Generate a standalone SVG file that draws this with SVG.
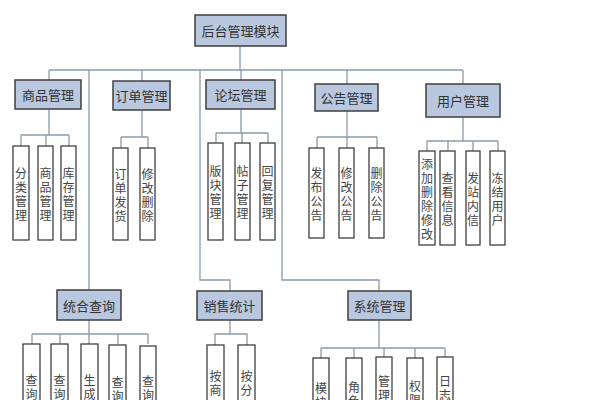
<svg xmlns="http://www.w3.org/2000/svg" width="602" height="400" viewBox="0 0 602 400">
<style>
.b{fill:#b9c8df;stroke:#3f3f3f;stroke-width:1.5}
.l{fill:#fff;stroke:#3f3f3f;stroke-width:1.3}
.t{font-family:"Noto Sans CJK SC",sans-serif;font-size:13px;fill:#333;text-anchor:middle;dominant-baseline:central}
.v{font-family:"Noto Sans CJK SC",sans-serif;font-size:12px;fill:#444;text-anchor:middle;dominant-baseline:central}
#c path{fill:none;stroke:#8a9aab;stroke-width:1.3}
</style>
<rect width="602" height="400" fill="#fff"/>
<g id="c">
<path d="M240 46V70M49 70H463M49 70V80M142 70V81M241 70V80M347 70V84M463 70V84"/>
<path d="M89 70V290M200 70V280H230V291M282 70V280H379V291"/>
<path d="M49 109V135M21 135H69M21 135V146M46 135V146M69 135V146"/>
<path d="M142 110V137M121 137H148M121 137V148M148 137V148"/>
<path d="M241 109V133M216 133H268M216 133V143M242 133V143M268 133V143"/>
<path d="M347 111V137M317 137H377M317 137V148M347 137V148M377 137V148"/>
<path d="M463 117V141M427 141H498M427 141V151M448 141V151M473 141V151M498 141V151"/>
<path d="M89 320V334M32 334H148M32 334V344M60 334V344M89 334V344M118 334V344M148 334V344"/>
<path d="M230 320V334H215V345M230 334H247V345"/>
<path d="M379 320V348M321 348H445M321 348V358M354 348V358M384 348V358M415 348V358M445 348V358"/>
</g>
<g id="root"><rect class="b" x="195" y="15" width="91" height="31"/><text class="t" x="240.5" y="30.5">后台管理模块</text></g>
<g id="n1"><rect class="b" x="15" y="80" width="66" height="29"/><text class="t" x="48" y="94.5">商品管理</text></g>
<g id="n2"><rect class="b" x="113" y="81" width="57" height="29"/><text class="t" x="141.5" y="95.5">订单管理</text></g>
<g id="n3"><rect class="b" x="206" y="80" width="69" height="29"/><text class="t" x="240.5" y="94.5">论坛管理</text></g>
<g id="n4"><rect class="b" x="315" y="84" width="63" height="27"/><text class="t" x="346.5" y="97.5">公告管理</text></g>
<g id="n5"><rect class="b" x="426" y="84" width="74" height="33"/><text class="t" x="463" y="100.5">用户管理</text></g>
<g id="n6"><rect class="b" x="57" y="290" width="64" height="30"/><text class="t" x="89" y="305">统合查询</text></g>
<g id="n7"><rect class="b" x="197" y="291" width="65" height="29"/><text class="t" x="229.5" y="305.5">销售统计</text></g>
<g id="n8"><rect class="b" x="348" y="291" width="63" height="29"/><text class="t" x="379.5" y="305.5">系统管理</text></g>
<g id="l1"><rect class="l" x="13" y="146" width="16" height="94"/><text class="v" x="21" y="172"><tspan x="21" dy="0">分</tspan><tspan x="21" dy="14">类</tspan><tspan x="21" dy="14">管</tspan><tspan x="21" dy="14">理</tspan></text></g>
<g id="l2"><rect class="l" x="38" y="146" width="15" height="94"/><text class="v" x="45.5" y="172"><tspan x="45.5" dy="0">商</tspan><tspan x="45.5" dy="14">品</tspan><tspan x="45.5" dy="14">管</tspan><tspan x="45.5" dy="14">理</tspan></text></g>
<g id="l3"><rect class="l" x="61" y="146" width="15" height="94"/><text class="v" x="68.5" y="172"><tspan x="68.5" dy="0">库</tspan><tspan x="68.5" dy="14">存</tspan><tspan x="68.5" dy="14">管</tspan><tspan x="68.5" dy="14">理</tspan></text></g>
<g id="l4"><rect class="l" x="113" y="148" width="15" height="92"/><text class="v" x="120.5" y="173"><tspan x="120.5" dy="0">订</tspan><tspan x="120.5" dy="14">单</tspan><tspan x="120.5" dy="14">发</tspan><tspan x="120.5" dy="14">货</tspan></text></g>
<g id="l5"><rect class="l" x="140" y="148" width="15" height="92"/><text class="v" x="147.5" y="173"><tspan x="147.5" dy="0">修</tspan><tspan x="147.5" dy="14">改</tspan><tspan x="147.5" dy="14">删</tspan><tspan x="147.5" dy="14">除</tspan></text></g>
<g id="l6"><rect class="l" x="208" y="143" width="15" height="97"/><text class="v" x="215.5" y="170"><tspan x="215.5" dy="0">版</tspan><tspan x="215.5" dy="14">块</tspan><tspan x="215.5" dy="14">管</tspan><tspan x="215.5" dy="14">理</tspan></text></g>
<g id="l7"><rect class="l" x="235" y="143" width="15" height="97"/><text class="v" x="242.5" y="170"><tspan x="242.5" dy="0">帖</tspan><tspan x="242.5" dy="14">子</tspan><tspan x="242.5" dy="14">管</tspan><tspan x="242.5" dy="14">理</tspan></text></g>
<g id="l8"><rect class="l" x="260" y="143" width="15" height="97"/><text class="v" x="267.5" y="170"><tspan x="267.5" dy="0">回</tspan><tspan x="267.5" dy="14">复</tspan><tspan x="267.5" dy="14">管</tspan><tspan x="267.5" dy="14">理</tspan></text></g>
<g id="l9"><rect class="l" x="309" y="148" width="15" height="90"/><text class="v" x="316.5" y="172"><tspan x="316.5" dy="0">发</tspan><tspan x="316.5" dy="14">布</tspan><tspan x="316.5" dy="14">公</tspan><tspan x="316.5" dy="14">告</tspan></text></g>
<g id="l10"><rect class="l" x="339" y="148" width="15" height="90"/><text class="v" x="346.5" y="172"><tspan x="346.5" dy="0">修</tspan><tspan x="346.5" dy="14">改</tspan><tspan x="346.5" dy="14">公</tspan><tspan x="346.5" dy="14">告</tspan></text></g>
<g id="l11"><rect class="l" x="369" y="148" width="15" height="90"/><text class="v" x="376.5" y="172"><tspan x="376.5" dy="0">删</tspan><tspan x="376.5" dy="14">除</tspan><tspan x="376.5" dy="14">公</tspan><tspan x="376.5" dy="14">告</tspan></text></g>
<g id="l12"><rect class="l" x="419" y="151" width="16" height="94"/><text class="v" x="427" y="163"><tspan x="427" dy="0">添</tspan><tspan x="427" dy="14">加</tspan><tspan x="427" dy="14">删</tspan><tspan x="427" dy="14">除</tspan><tspan x="427" dy="14">修</tspan><tspan x="427" dy="14">改</tspan></text></g>
<g id="l13"><rect class="l" x="440" y="151" width="15" height="94"/><text class="v" x="447.5" y="177"><tspan x="447.5" dy="0">查</tspan><tspan x="447.5" dy="14">看</tspan><tspan x="447.5" dy="14">信</tspan><tspan x="447.5" dy="14">息</tspan></text></g>
<g id="l14"><rect class="l" x="466" y="151" width="14" height="94"/><text class="v" x="473" y="177"><tspan x="473" dy="0">发</tspan><tspan x="473" dy="14">站</tspan><tspan x="473" dy="14">内</tspan><tspan x="473" dy="14">信</tspan></text></g>
<g id="l15"><rect class="l" x="490" y="151" width="15" height="94"/><text class="v" x="497.5" y="177"><tspan x="497.5" dy="0">冻</tspan><tspan x="497.5" dy="14">结</tspan><tspan x="497.5" dy="14">用</tspan><tspan x="497.5" dy="14">户</tspan></text></g>
<g id="l16"><rect class="l" x="23" y="344" width="17" height="60"/><text class="v" x="31.5" y="379"><tspan x="31.5" dy="0">查</tspan><tspan x="31.5" dy="14">询</tspan></text></g>
<g id="l17"><rect class="l" x="51" y="344" width="17" height="60"/><text class="v" x="59.5" y="379"><tspan x="59.5" dy="0">查</tspan><tspan x="59.5" dy="14">询</tspan></text></g>
<g id="l18"><rect class="l" x="81" y="344" width="17" height="60"/><text class="v" x="89.5" y="379"><tspan x="89.5" dy="0">生</tspan><tspan x="89.5" dy="14">成</tspan></text></g>
<g id="l19"><rect class="l" x="109" y="345" width="17" height="60"/><text class="v" x="117.5" y="381"><tspan x="117.5" dy="0">查</tspan><tspan x="117.5" dy="14">询</tspan></text></g>
<g id="l20"><rect class="l" x="140" y="346" width="16" height="60"/><text class="v" x="148" y="380"><tspan x="148" dy="0">查</tspan><tspan x="148" dy="14">询</tspan></text></g>
<g id="l21"><rect class="l" x="207" y="345" width="17" height="60"/><text class="v" x="215.5" y="375"><tspan x="215.5" dy="0">按</tspan><tspan x="215.5" dy="14">商</tspan></text></g>
<g id="l22"><rect class="l" x="238" y="345" width="17" height="60"/><text class="v" x="246.5" y="375"><tspan x="246.5" dy="0">按</tspan><tspan x="246.5" dy="14">分</tspan></text></g>
<g id="l23"><rect class="l" x="313" y="358" width="16" height="50"/><text class="v" x="321" y="387"><tspan x="321" dy="0">模</tspan><tspan x="321" dy="14">块</tspan></text></g>
<g id="l24"><rect class="l" x="346" y="358" width="16" height="50"/><text class="v" x="354" y="386"><tspan x="354" dy="0">角</tspan><tspan x="354" dy="14">色</tspan></text></g>
<g id="l25"><rect class="l" x="376" y="357" width="16" height="50"/><text class="v" x="384" y="380"><tspan x="384" dy="0">管</tspan><tspan x="384" dy="14">理</tspan></text></g>
<g id="l26"><rect class="l" x="407" y="358" width="16" height="50"/><text class="v" x="415" y="385"><tspan x="415" dy="0">权</tspan><tspan x="415" dy="14">限</tspan></text></g>
<g id="l27"><rect class="l" x="437" y="357" width="16" height="50"/><text class="v" x="445" y="380"><tspan x="445" dy="0">日</tspan><tspan x="445" dy="14">志</tspan></text></g>
</svg>
